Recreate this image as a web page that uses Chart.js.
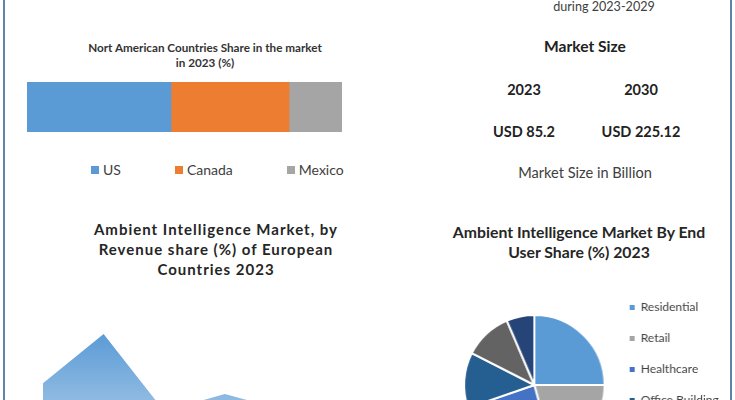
<!DOCTYPE html>
<html><head><meta charset="utf-8">
<script src="https://cdn.jsdelivr.net/npm/chart.js@4.4.1/dist/chart.umd.min.js"></script>
<style>
html,body{margin:0;padding:0;background:#fff;}
body{width:735px;height:400px;overflow:hidden;position:relative;font-family:Lato,"Open Sans",sans-serif;}
.t{position:absolute;white-space:nowrap;text-align:center;width:400px;}
.box{position:absolute;}
.edge{position:absolute;top:0;height:400px;width:2px;background:#5f84a8;z-index:5;}
#naLegend{position:absolute;left:91px;top:161px;display:flex;gap:54px;font-size:14px;color:#404040;line-height:18px;}
#naLegend .li{display:flex;align-items:center;}
#naLegend .sw{display:inline-block;width:8px;height:8px;margin-right:4px;}
.b{font-weight:bold;}
</style></head><body>
<div class="edge" style="left:3px"></div>
<div class="edge" style="left:730px"></div>

<div class="t" style="left:404px;top:-1px;font-size:12.6px;color:#404040;line-height:15px">during 2023-2029</div>
<div class="t b" style="left:385px;top:37px;font-size:15.6px;color:#222;line-height:18px">Market Size</div>
<div id="msYears"></div>
<div class="t" style="left:385px;top:164px;font-size:14.6px;color:#404040;line-height:17px">Market Size in Billion</div>

<div class="t b" style="left:5px;top:40px;font-size:11.7px;color:#333;line-height:15px">Nort American Countries Share in the market<br>in 2023 (%)</div>
<div class="box" style="left:0;top:70px;width:367px;height:75px"><canvas id="bar"></canvas></div>
<div id="naLegend"></div>

<div class="t b" style="left:16px;top:219px;font-size:15px;color:#262626;line-height:20px;letter-spacing:1px">Ambient Intelligence Market, by<br>Revenue share (%) of European<br>Countries 2023</div>
<div class="box" style="left:0;top:280px;width:367px;height:190px"><canvas id="area"></canvas></div>

<div class="t b" style="left:379px;top:222px;font-size:15.8px;color:#262626;line-height:20px">Ambient Intelligence Market By End<br>User Share (%) 2023</div>
<div class="box" id="pieBox" style="left:440px;top:270px;width:293px;height:230px"><canvas id="pie"></canvas></div>

<script>
// ---- data ----
const naCategories = ['2023'];
const naCountries = ['US', 'Canada', 'Mexico'];
const naShares = [45.7, 37.5, 16.8];

const marketYears = ['2023', '2030'];
const marketSizes = ['USD 85.2', 'USD 225.12'];

const euCountries = ['Germany', 'UK', 'France', 'Italy', 'Spain', 'Rest of Europe'];
const euShares = [18.3, 30.0, 11.6, 15.7, 11.8, 12.6];

const endUsers = ['Residential', 'Retail', 'Healthcare', 'Office Building', 'Hospitality', 'Others'];
const endUserShares = [25.0, 20.8, 23.9, 12.8, 11.1, 6.4];

// ---- styles ----
const naColors = ['#5b9bd5', '#ed7d31', '#a5a5a5'];
const endUserColors = ['#5b9bd5', '#a5a5a5', '#4472c4', '#255e91', '#636363', '#264478'];
Chart.defaults.font.family = 'Lato, "Open Sans", sans-serif';
Chart.defaults.animation = false;

// market size text
(function(){
  const host = document.getElementById('msYears');
  const cx = [524, 641];
  marketYears.forEach((y, i) => {
    const a = document.createElement('div');
    a.className = 't b'; a.textContent = y;
    a.style.cssText = 'left:' + (cx[i]-200) + 'px;top:81px;font-size:14.5px;color:#222;line-height:17px';
    host.appendChild(a);
    const b = document.createElement('div');
    b.className = 't b'; b.textContent = marketSizes[i];
    b.style.cssText = 'left:' + (cx[i]-200) + 'px;top:123px;font-size:14.5px;color:#222;line-height:17px';
    host.appendChild(b);
  });
})();

// HTML legend for bar chart
const htmlLegend = {
  id: 'htmlLegend',
  afterUpdate(chart) {
    const box = document.getElementById('naLegend');
    box.innerHTML = '';
    chart.options.plugins.legend.labels.generateLabels(chart).forEach(item => {
      const li = document.createElement('div'); li.className = 'li';
      const sw = document.createElement('span'); sw.className = 'sw'; sw.style.background = item.fillStyle;
      const tx = document.createElement('span'); tx.textContent = item.text;
      li.append(sw, tx); box.append(li);
    });
  }
};

new Chart(document.getElementById('bar'), {
  type: 'bar',
  data: {
    labels: naCategories,
    datasets: naCountries.map((c, i) => ({
      label: c, data: [naShares[i]], backgroundColor: naColors[i], borderWidth: 0,
      barPercentage: 1, categoryPercentage: 1
    }))
  },
  options: {
    indexAxis: 'y', responsive: true, maintainAspectRatio: false,
    layout: { padding: { left: 27, right: 25, top: 12, bottom: 13 } },
    scales: {
      x: { stacked: true, min: 0, max: 100, display: false },
      y: { stacked: true, display: false }
    },
    plugins: { legend: { display: false }, tooltip: { enabled: false } }
  },
  plugins: [htmlLegend]
});

new Chart(document.getElementById('area'), {
  type: 'line',
  data: {
    labels: euCountries,
    datasets: [{
      label: 'Revenue share (%)', data: euShares, fill: 'origin', borderWidth: 0, pointRadius: 0, tension: 0,
      backgroundColor: (ctx) => {
        const chart = ctx.chart;
        if (!chart.chartArea || !chart.scales.y) return '#7fb0de';
        const y = chart.scales.y;
        const g = chart.ctx.createLinearGradient(0, y.getPixelForValue(30), 0, y.getPixelForValue(0));
        g.addColorStop(0, '#5b9bd5'); g.addColorStop(1, '#bdd7ee');
        return g;
      }
    }]
  },
  options: {
    responsive: true, maintainAspectRatio: false,
    layout: { padding: { left: 43, right: 21, top: 12, bottom: 10 } },
    scales: { x: { display: false }, y: { display: false, min: 0, max: 40 } },
    plugins: { legend: { display: false }, tooltip: { enabled: false } }
  }
});

// size pie box so legend starts at the right place
(function(){
  const c = document.createElement('canvas').getContext('2d');
  c.font = '12px Lato';
  const w = Math.max(...endUsers.map(s => c.measureText(s).width));
  const legendW = 19 + 5 + 6 + w + 10;
  document.getElementById('pieBox').style.width = (610 + legendW - 440) + 'px';
})();

const pieDefaults = Chart.overrides.pie.plugins.legend.labels.generateLabels;
new Chart(document.getElementById('pie'), {
  type: 'pie',
  data: {
    labels: endUsers,
    datasets: [{ data: endUserShares, backgroundColor: endUserColors, borderColor: '#fff', borderWidth: 2, radius: 70 }]
  },
  options: {
    responsive: true, maintainAspectRatio: false,
    layout: { padding: { left: 18, right: 0, top: 5, bottom: 5 } },
    plugins: {
      tooltip: { enabled: false },
      legend: {
        position: 'right',
        labels: {
          boxWidth: 5, boxHeight: 5, padding: 19, color: '#404040', font: { size: 12 },
          generateLabels: (chart) => pieDefaults(chart).map(it => Object.assign(it, { lineWidth: 0 }))
        }
      }
    }
  }
});
</script>
</body></html>
